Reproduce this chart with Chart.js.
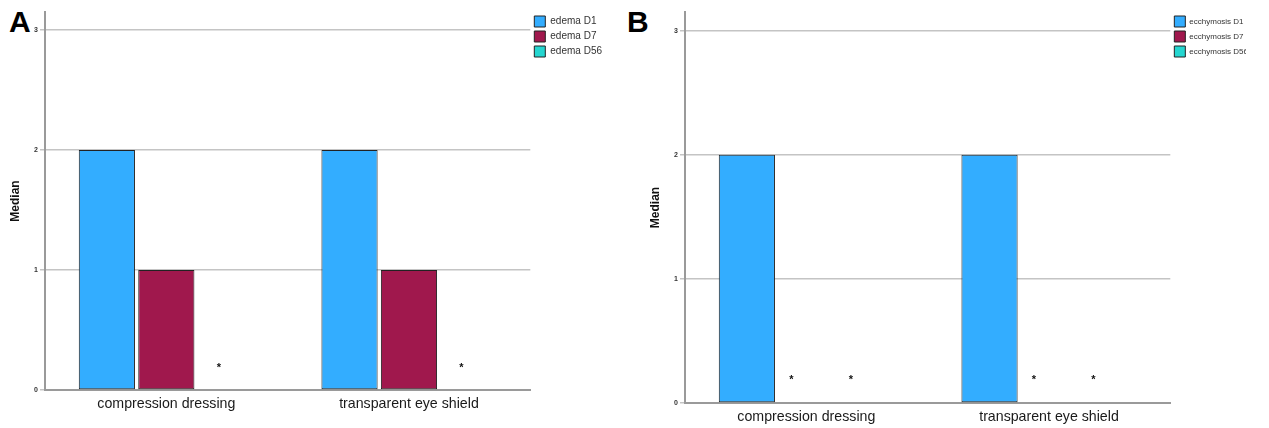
<!DOCTYPE html>
<html>
<head>
<meta charset="utf-8">
<script src="https://cdn.jsdelivr.net/npm/chart.js@4.4.1/dist/chart.umd.min.js"></script>
<style>
  body { margin: 0; background: #fff; width: 1269px; height: 428px; overflow: hidden; position: relative; font-family: "Liberation Sans", Arial, sans-serif; }
  .panel { position: absolute; top: 0; height: 428px; overflow: hidden; }
  .tag { position: absolute; top: 7px; font-size: 30px; line-height: 1; font-weight: bold; color: #000; }
</style>
</head>
<body>
<div class="tag" style="left:9px">A</div>
<div class="tag" style="left:627px">B</div>
<div class="panel" style="left:0;width:620px"><canvas id="chartA" width="612" height="428"></canvas></div>
<div class="panel" style="left:640px;width:606px"><canvas id="chartB" width="618" height="428"></canvas></div>
<script>
// categories and medians
const categories = ['compression dressing', 'transparent eye shield'];
const edemaD1 = [2, 2];
const edemaD7 = [1, 1];
const edemaD56 = [0, 0];
const ecchymosisD1 = [2, 2];
const ecchymosisD7 = [0, 0];
const ecchymosisD56 = [0, 0];
const yTicks = [0, 1, 2, 3];
// asterisks printed over the zero bars
const edemaMarks = [['', ''], ['', ''], ['*', '*']];
const ecchymosisMarks = [['', ''], ['*', '*'], ['*', '*']];

const colors = ['#33adff', '#a0184d', '#25d6d0'];

// draws the asterisks above the zero-height bars
const starPlugin = {
    id: 'stars',
    afterDatasetsDraw(chart, args, opts) {
        const ctx = chart.ctx;
        const y = chart.scales.y.getPixelForValue(0.2);
        ctx.save();
        ctx.fillStyle = '#111';
        ctx.font = 'bold 11px "Liberation Sans", Arial';
        ctx.textAlign = 'center';
        ctx.textBaseline = 'middle';
        opts.marks.forEach((row, i) => {
            chart.getDatasetMeta(i).data.forEach((bar, j) => {
                if (row[j]) ctx.fillText(row[j], bar.x + opts.shift, y + 2);
            });
        });
        ctx.restore();
    }
};

function makeChart(id, labels, series, marks, shift, bottom, legendSize) {
    return new Chart(document.getElementById(id), {
        type: 'bar',
        data: {
            labels: categories,
            datasets: series.map((s, i) => ({
                label: labels[i],
                data: s,
                backgroundColor: colors[i],
                borderColor: '#222',
                borderWidth: 1,
                borderSkipped: false,
                categoryPercentage: 0.735,
                barPercentage: 0.945
            }))
        },
        options: {
            responsive: false,
            animation: false,
            layout: { padding: { top: 12, right: 0, left: 0, bottom: 0 } },
            plugins: {
                tooltip: { enabled: false },
                stars: { marks: marks, shift: shift },
                legend: {
                    position: 'right',
                    align: 'start',
                    labels: {
                        boxWidth: 11,
                        boxHeight: 11,
                        padding: 4,
                        color: '#333',
                        font: { size: legendSize, family: '"Liberation Sans", Arial' }
                    }
                }
            },
            scales: {
                x: {
                    grid: { drawOnChartArea: false, drawTicks: false },
                    border: { color: '#9a9a9a', width: 2 },
                    ticks: { color: '#1a1a1a', padding: 6, font: { size: 14.2, family: '"Liberation Sans", Arial' } },
                    afterFit: s => { s.height = bottom; }
                },
                y: {
                    min: 0,
                    max: 3.15,
                    afterBuildTicks: s => { s.ticks = yTicks.map(v => ({ value: v })); },
                    afterFit: s => { s.width = 45; },
                    grid: { color: '#c4c4c4', lineWidth: 1.5, tickLength: 5 },
                    border: { color: '#9a9a9a', width: 2 },
                    ticks: { color: '#333', padding: 2, font: { size: 7, weight: 'bold', family: '"Liberation Sans", Arial' } },
                    title: {
                        display: true,
                        text: 'Median',
                        color: '#111',
                        padding: { top: 8, bottom: 0 },
                        font: { size: 12, weight: 'bold', family: '"Liberation Sans", Arial' }
                    }
                }
            }
        },
        plugins: [starPlugin]
    });
}

makeChart('chartA', ['edema D1', 'edema D7', 'edema D56'],
    [edemaD1, edemaD7, edemaD56], edemaMarks, -7, 38, 10);
makeChart('chartB', ['ecchymosis D1', 'ecchymosis D7', 'ecchymosis D56'],
    [ecchymosisD1, ecchymosisD7, ecchymosisD56], ecchymosisMarks, -15, 25, 8);
</script>
</body>
</html>
